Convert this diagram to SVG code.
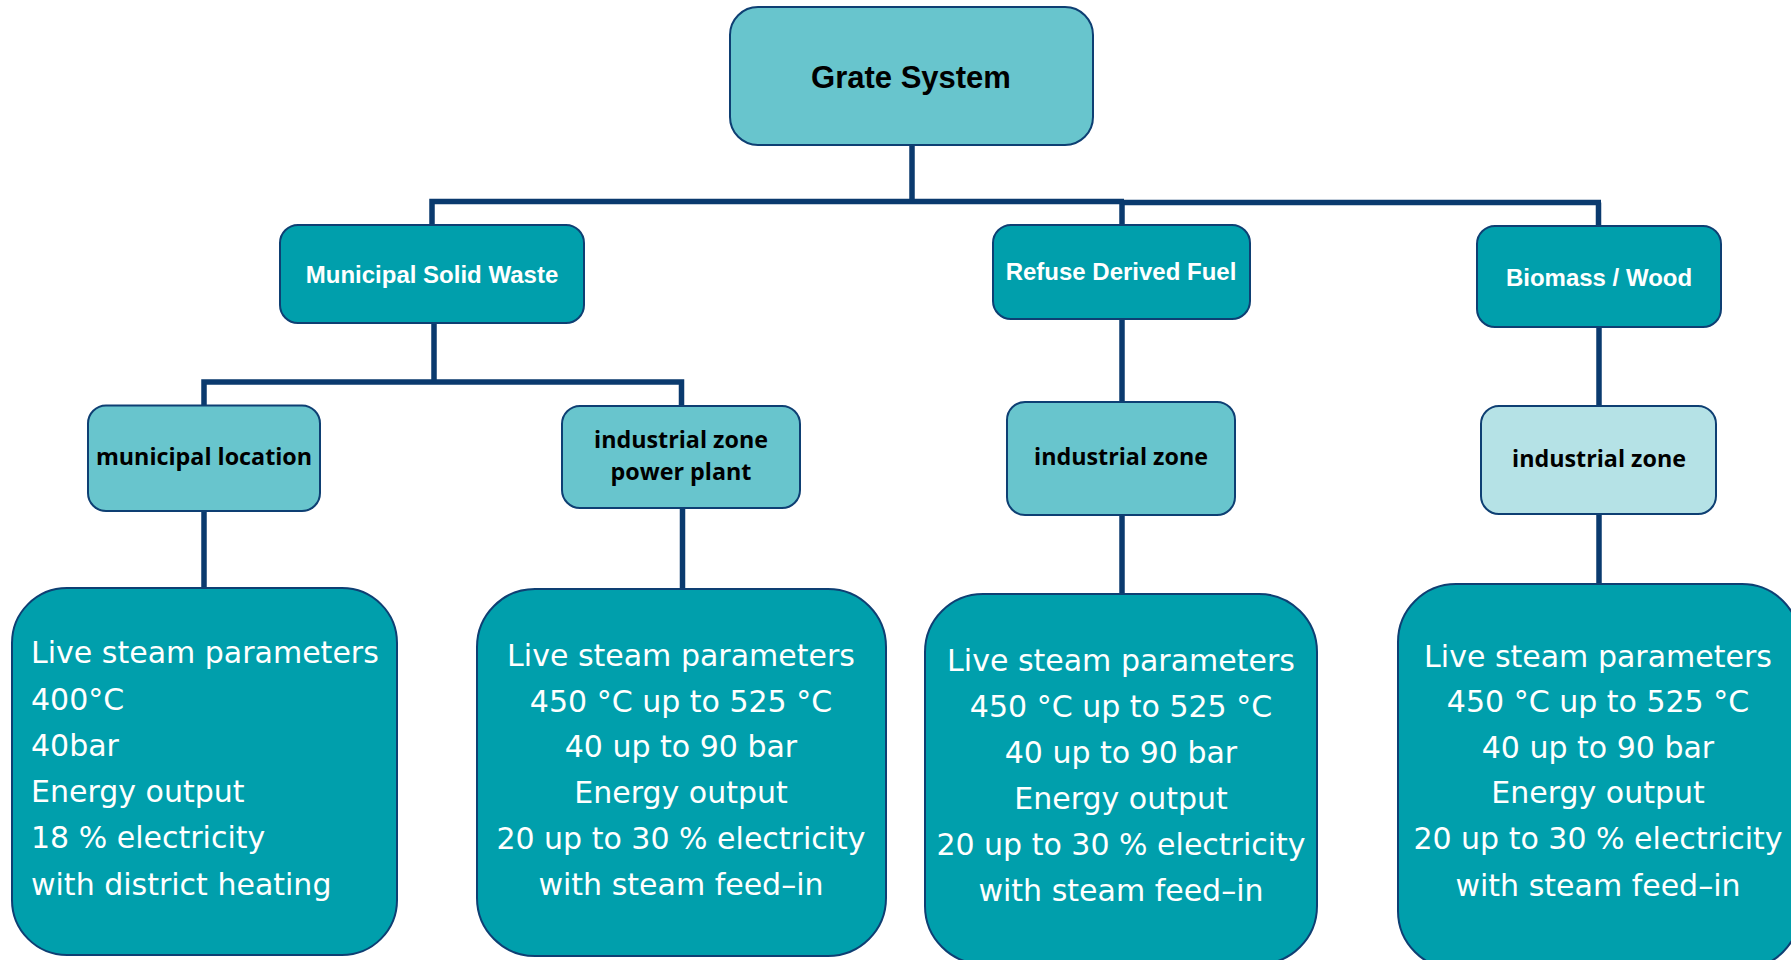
<svg xmlns="http://www.w3.org/2000/svg" width="1791" height="960" viewBox="0 0 1791 960">
<style>
.ln{fill:none;stroke:#0A3A6E;stroke-width:5.5;stroke-linecap:butt;stroke-linejoin:miter}
.bx{stroke:#0E3F73;stroke-width:2}
.dk{fill:#009FAC}
.lt{fill:#68C5CD}
.xl{fill:#B5E2E6}
.hd{font-family:"Liberation Sans",Arial,sans-serif;font-weight:bold;text-anchor:middle}
.lb{font-family:"Open Sans","DejaVu Sans",sans-serif;font-weight:bold;font-size:23.3px;fill:#000;text-anchor:middle}
.bd{font-family:"DejaVu Sans","Liberation Sans",sans-serif;font-size:30px;fill:#fff}
.c{text-anchor:middle}
</style>
<rect width="1791" height="960" fill="#fff"/>
<g id="connectors">
<path class="ln" d="M912 145 V201.5 M432 225 V201.5 H1124 M1122 225 V202.5 H1601 M1598.5 202.5 V226"/>
<path class="ln" d="M434 323 V382 M204 405 V382 H681.5 V406"/>
<path class="ln" d="M204 511 V588"/>
<path class="ln" d="M682.5 508 V589"/>
<path class="ln" d="M1122 319 V402"/>
<path class="ln" d="M1122 515 V594"/>
<path class="ln" d="M1599 327 V406"/>
<path class="ln" d="M1599 514 V584"/>
</g>
<g id="grate-system">
<rect class="bx lt" x="730" y="7" width="363" height="138" rx="28"/>
<text class="hd" x="911" y="88" font-size="31" fill="#000">Grate System</text>
</g>
<g id="msw">
<rect class="bx dk" x="280" y="225" width="304" height="98" rx="18"/>
<text class="hd" x="432" y="283" font-size="24" fill="#fff">Municipal Solid Waste</text>
</g>
<g id="rdf">
<rect class="bx dk" x="993" y="225" width="257" height="94" rx="18"/>
<text class="hd" x="1121" y="280" font-size="24" fill="#fff">Refuse Derived Fuel</text>
</g>
<g id="biomass">
<rect class="bx dk" x="1477" y="226" width="244" height="101" rx="18"/>
<text class="hd" x="1599" y="286" font-size="24" fill="#fff">Biomass / Wood</text>
</g>
<g id="municipal-location">
<rect class="bx lt" x="88" y="405.5" width="232" height="105.5" rx="18"/>
<text class="lb" x="204" y="465" font-size="23">municipal location</text>
</g>
<g id="industrial-power-plant">
<rect class="bx lt" x="562" y="406" width="238" height="102" rx="18"/>
<text class="lb" x="681" y="447.5">industrial zone</text>
<text class="lb" x="681" y="479.5">power plant</text>
</g>
<g id="rdf-industrial-zone">
<rect class="bx lt" x="1007" y="402" width="228" height="113" rx="18"/>
<text class="lb" x="1121" y="465">industrial zone</text>
</g>
<g id="biomass-industrial-zone">
<rect class="bx xl" x="1481" y="406" width="235" height="108" rx="18"/>
<text class="lb" x="1599" y="467">industrial zone</text>
</g>
<g id="msw-params">
<rect class="bx dk" x="12" y="588" width="385" height="367" rx="55"/>
<text class="bd" x="31" y="663">Live steam parameters</text>
<text class="bd" x="31" y="710">400°C</text>
<text class="bd" x="31" y="756">40bar</text>
<text class="bd" x="31" y="802">Energy output</text>
<text class="bd" x="31" y="848">18 % electricity</text>
<text class="bd" x="31" y="895">with district heating</text>
</g>
<g id="pp-params">
<rect class="bx dk" x="477" y="589" width="409" height="367" rx="58"/>
<text class="bd c" x="681" y="666">Live steam parameters</text>
<text class="bd c" x="681" y="712">450 °C up to 525 °C</text>
<text class="bd c" x="681" y="757">40 up to 90 bar</text>
<text class="bd c" x="681" y="803">Energy output</text>
<text class="bd c" x="681" y="849">20 up to 30 % electricity</text>
<text class="bd c" x="681" y="895">with steam feed–in</text>
</g>
<g id="rdf-params">
<rect class="bx dk" x="925" y="594" width="392" height="370" rx="58"/>
<text class="bd c" x="1121" y="671">Live steam parameters</text>
<text class="bd c" x="1121" y="717">450 °C up to 525 °C</text>
<text class="bd c" x="1121" y="763">40 up to 90 bar</text>
<text class="bd c" x="1121" y="809">Energy output</text>
<text class="bd c" x="1121" y="855">20 up to 30 % electricity</text>
<text class="bd c" x="1121" y="901">with steam feed–in</text>
</g>
<g id="biomass-params">
<rect class="bx dk" x="1398" y="584" width="402" height="385" rx="58"/>
<text class="bd c" x="1598" y="667">Live steam parameters</text>
<text class="bd c" x="1598" y="712">450 °C up to 525 °C</text>
<text class="bd c" x="1598" y="758">40 up to 90 bar</text>
<text class="bd c" x="1598" y="803">Energy output</text>
<text class="bd c" x="1598" y="849">20 up to 30 % electricity</text>
<text class="bd c" x="1598" y="896">with steam feed–in</text>
</g>
</svg>
